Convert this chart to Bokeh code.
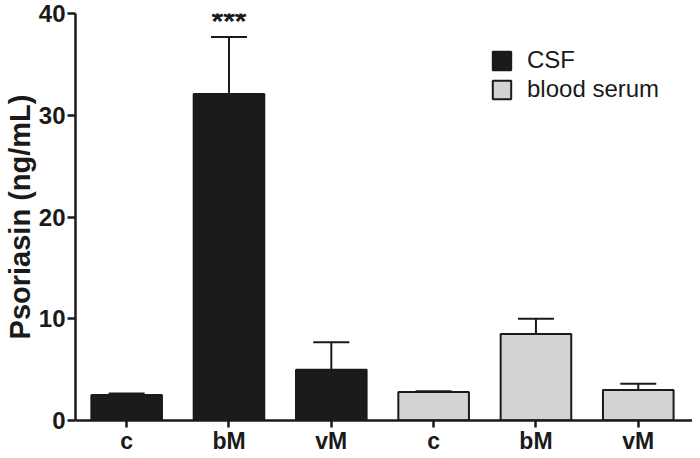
from bokeh.plotting import figure
from bokeh.models import (ColumnDataSource, FixedTicker, Whisker, TeeHead, Legend, LegendItem, Range1d, Label)
from bokeh.embed import file_html
from bokeh.resources import INLINE

# ---- data ----
groups = ["CSF", "blood serum"]
categories = ["c", "bM", "vM"]
csf_means = [2.5, 32.1, 5.0]
csf_errs = [0.15, 5.6, 2.7]
serum_means = [2.8, 8.5, 3.0]
serum_errs = [0.08, 1.5, 0.6]
significance = ["", "***", "", "", "", ""]
y_ticks = [0, 10, 20, 30, 40]

FONT = "Liberation Sans"
INK = "#1a1a1a"
csf_color = "#1b1b1b"
serum_color = "#d3d3d3"

xs_csf = [0, 1, 2]
xs_serum = [3, 4, 5]

p = figure(output_backend="svg", toolbar_location=None,
           width=692, height=456,
           min_border_left=68, min_border_top=13, min_border_right=0, min_border_bottom=30,
           x_range=Range1d(-0.5, 5.53), y_range=Range1d(0, 40))
p.outline_line_color = None
p.grid.grid_line_color = None
p.background_fill_color = "white"

src_csf = ColumnDataSource(dict(x=xs_csf, top=csf_means,
                                upper=[m + e for m, e in zip(csf_means, csf_errs)]))
src_serum = ColumnDataSource(dict(x=xs_serum, top=serum_means,
                                  upper=[m + e for m, e in zip(serum_means, serum_errs)]))

for src in (src_csf, src_serum):
    w = Whisker(source=src, base="x", lower="top", upper="upper",
                line_color=INK, line_width=2,
                upper_head=TeeHead(size=36, line_color=INK, line_width=2),
                lower_head=None, level="underlay")
    p.add_layout(w)

r_csf = p.vbar(x="x", top="top", width=0.69, source=src_csf,
               fill_color=csf_color, line_color=INK, line_width=2)
r_serum = p.vbar(x="x", top="top", width=0.69, source=src_serum,
                 fill_color=serum_color, line_color=INK, line_width=2)

# significance stars
all_upper = [m + e for m, e in zip(csf_means + serum_means, csf_errs + serum_errs)]
for i, s in enumerate(significance):
    if s:
        p.add_layout(Label(x=i, y=all_upper[i] + 1.6, text=s, text_align="center",
                           text_baseline="middle", text_font=FONT,
                           text_font_size="30px", text_font_style="bold",
                           text_color=INK))

# axes
p.xaxis.ticker = FixedTicker(ticks=xs_csf + xs_serum)
p.xaxis.major_label_overrides = {i: lab for i, lab in enumerate(categories + categories)}
p.yaxis.ticker = FixedTicker(ticks=y_ticks)
p.xaxis.minor_tick_line_color = None
p.yaxis.minor_tick_line_color = None
for ax in (p.xaxis, p.yaxis):
    ax.axis_line_width = 2.5
    ax.axis_line_color = INK
    ax.major_tick_line_width = 2.5
    ax.major_tick_line_color = INK
    ax.major_tick_in = 0
    ax.major_label_text_font = FONT
    ax.major_label_text_font_style = "bold"
    ax.major_label_text_color = INK
p.yaxis.major_label_text_font_size = "24px"
p.xaxis.major_label_text_font_size = "23px"
p.yaxis.major_tick_out = 8
p.xaxis.major_tick_out = 7
p.yaxis.major_label_standoff = 2
p.xaxis.major_label_standoff = 0
p.yaxis.axis_label = "Psoriasin (ng/mL)"
p.yaxis.axis_label_text_font = FONT
p.yaxis.axis_label_text_font_style = "bold"
p.yaxis.axis_label_text_font_size = "29px"
p.yaxis.axis_label_text_color = INK
p.yaxis.axis_label_standoff = 0

legend = Legend(items=[LegendItem(label=groups[0], renderers=[r_csf]),
                       LegendItem(label=groups[1], renderers=[r_serum])],
                location=(415, 317), padding=0, margin=0, spacing=1,
                glyph_width=23, glyph_height=23, label_standoff=14,
                label_text_font=FONT, label_text_font_size="24px",
                label_text_color=INK, border_line_color=None,
                background_fill_alpha=0)
p.add_layout(legend)

open("out.html", "w").write(file_html(p, INLINE))
